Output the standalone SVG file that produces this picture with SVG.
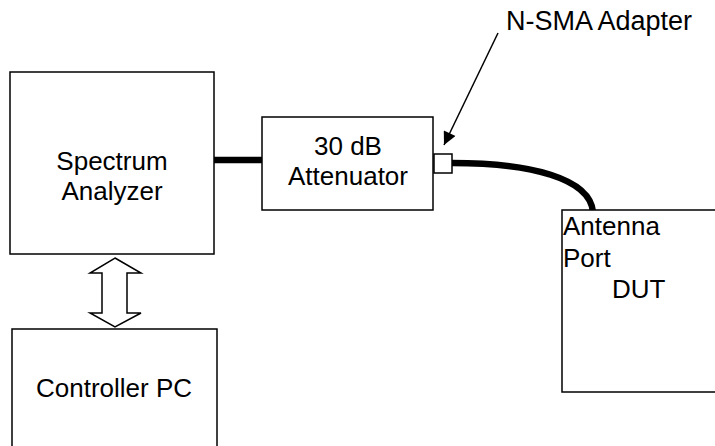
<svg xmlns="http://www.w3.org/2000/svg" width="715" height="446" viewBox="0 0 715 446">
<style>
.box{fill:#fff;stroke:#000;stroke-width:1.5}
.t{font-family:"Liberation Sans",Arial,sans-serif;font-size:26px;fill:#000}
.c{text-anchor:middle}
.cable{fill:none;stroke:#000;stroke-width:6.5}
</style>
<defs>
<marker id="ah" viewBox="0 0 10 10" refX="10" refY="5" markerWidth="18" markerHeight="13" markerUnits="userSpaceOnUse" orient="auto">
<path d="M0,0 L10,5 L0,10 z" fill="#000"/>
</marker>
</defs>
<rect width="715" height="446" fill="#fff"/>
<g id="connectors">
<line class="cable" x1="214" y1="160" x2="262" y2="160"/>
<path class="cable" d="M452,163 C530,163 590,178 593,212"/>
<line x1="498" y1="33" x2="444" y2="145" stroke="#000" stroke-width="1.5" marker-end="url(#ah)"/>
<path d="M115,258 L141,273 L127,273 L127,313 L141,313 L115,327 L90,313 L102,313 L102,273 L90,273 Z" fill="#fff" stroke="#000" stroke-width="1.5"/>
</g>
<g id="spectrum-analyzer">
<rect class="box" x="10" y="72" width="204" height="182"/>
<text class="t c" x="112" y="170">Spectrum</text>
<text class="t c" x="112" y="200">Analyzer</text>
</g>
<g id="attenuator">
<rect class="box" x="262" y="117" width="171" height="93"/>
<text class="t c" x="348" y="155">30 dB</text>
<text class="t c" x="348" y="185">Attenuator</text>
</g>
<g id="adapter">
<rect class="box" x="434" y="154" width="18" height="19"/>
</g>
<g id="adapter-label">
<text class="t" x="506" y="30" style="font-size:27px">N-SMA Adapter</text>
</g>
<g id="dut">
<rect class="box" x="562" y="210" width="170" height="182"/>
<text class="t" x="563" y="235">Antenna</text>
<text class="t" x="563" y="267">Port</text>
<text class="t" x="612" y="298">DUT</text>
</g>
<g id="controller-pc">
<rect class="box" x="12" y="329" width="205" height="140"/>
<text class="t c" x="114" y="397">Controller PC</text>
</g>
</svg>
